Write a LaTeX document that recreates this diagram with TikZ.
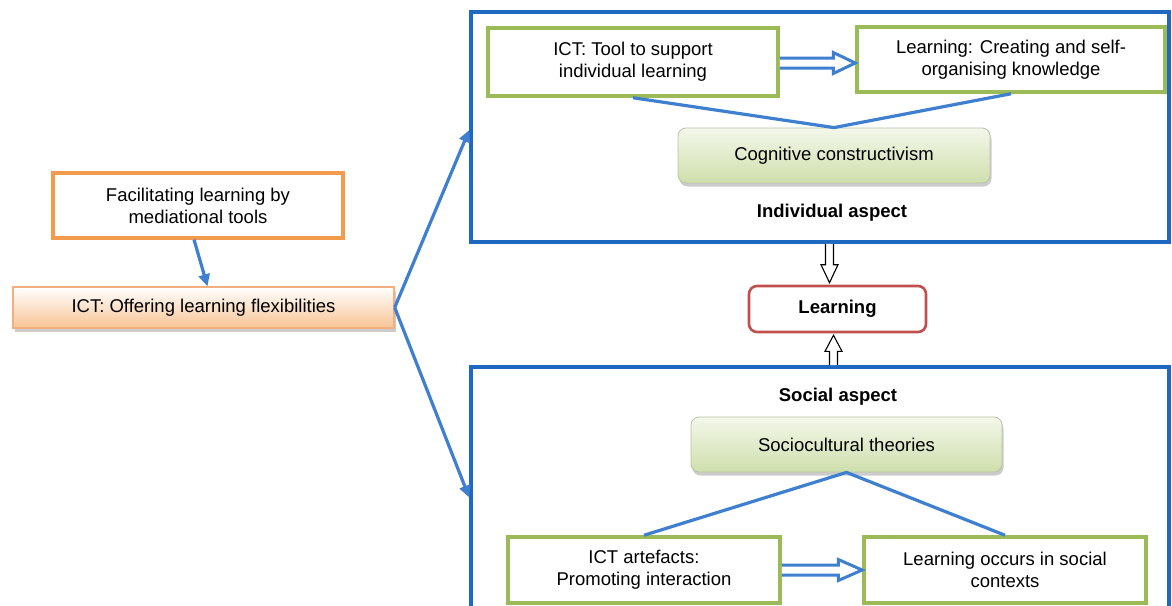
\documentclass[tikz,border=0pt]{standalone}
\usepackage{fontspec}
\setmainfont{Liberation Sans}
\usetikzlibrary{arrows.meta,calc,shadows}
\definecolor{conn}{HTML}{3F7FCF}
\definecolor{frameblue}{HTML}{1F68C0}
\definecolor{orangeline}{HTML}{F29B4C}
\definecolor{peachline}{HTML}{F3B07E}
\definecolor{peachfill}{HTML}{F8C495}
\definecolor{greenline}{HTML}{9BBB59}
\definecolor{greenfill}{HTML}{CFDFAC}
\definecolor{redline}{HTML}{C0504D}
\tikzset{
  txt/.style={font=\fontsize{18.5}{22}\selectfont, align=center, inner sep=0pt},
  headlabel/.style={font=\fontsize{18.5}{22}\selectfont\bfseries, inner sep=0pt},
  orangebox/.style={draw=orangeline, line width=3.2pt, fill=white, txt},
  peachbox/.style={draw=peachline, line width=1.4pt, txt,
    top color=white, bottom color=peachfill,
    drop shadow={shadow xshift=1.5pt, shadow yshift=-3.5pt, opacity=0.4}},
  greenbox/.style={draw=greenline, line width=3.5pt, fill=white, txt},
  themebox/.style={txt, rounded corners=8pt, draw=greenline!45!gray!60, line width=0.8pt,
    top color=greenfill!25, bottom color=greenfill,
    drop shadow={shadow xshift=1.5pt, shadow yshift=-3.5pt, opacity=0.4}},
  framebox/.style={draw=frameblue, line width=3.6pt, fill=white, inner sep=0pt},
  learnbox/.style={draw=redline, line width=2.6pt, rounded corners=8pt, fill=white, headlabel},
  link/.style={draw=conn, line width=3.2pt},
  flow/.style={link, -{Triangle[length=12pt,width=11pt]}},
  hollowblue/.style={draw=conn, line width=3pt, fill=white, line join=miter},
  hollowblack/.style={draw=black, line width=1.1pt, fill=white, line join=miter},
}
\begin{document}
\begin{tikzpicture}[x=1pt,y=-1pt]
\useasboundingbox (0,0) rectangle (1172,605);
\fill[white] (0,0) rectangle (1172,605);
\clip (0,0) rectangle (1172,605);

% left column
\node[orangebox, minimum width=290pt, minimum height=65pt] (facil) at (198,205.5)
  {Facilitating learning by\\mediational tools};
\node[peachbox, minimum width=381pt, minimum height=41pt] (offer) at (203.5,307.5)
  {ICT: Offering learning flexibilities};

% two aspect frames
\node[framebox, minimum width=698pt, minimum height=230pt] (indiv) at (820,127) {};
\node[framebox, minimum width=698pt, minimum height=283pt] (social) at (820,508.5) {};

% individual aspect
\node[greenbox, minimum width=290pt, minimum height=68pt] (tool) at (633,62)
  {ICT: Tool to support\\individual learning};
\node[greenbox, minimum width=308pt, minimum height=65pt] (create) at (1011,59.5)
  {Learning: Creating and self-\\organising knowledge};
\node[themebox, minimum width=312pt, minimum height=55pt] (cog) at (834,155.5)
  {Cognitive constructivism};
\node[headlabel] (indlabel) at (832,213) {Individual aspect};

% centre
\node[learnbox, minimum width=177pt, minimum height=46pt] (learn) at (837.5,309) {Learning};

% social aspect
\node[headlabel] (soclabel) at (838,397) {Social aspect};
\node[themebox, minimum width=311pt, minimum height=55pt] (socio) at (846.5,444.5)
  {Sociocultural theories};
\node[greenbox, minimum width=272pt, minimum height=66pt] (artef) at (644,570)
  {ICT artefacts:\\Promoting interaction};
\node[greenbox, minimum width=282pt, minimum height=66pt] (occurs) at (1005,570)
  {Learning occurs in social\\contexts};

% connectors
\draw[flow] ([xshift=-4pt]facil.south) -- ([xshift=4pt]offer.north);
\draw[flow] (offer.east) -- ([yshift=-3pt]indiv.west);
\draw[flow] (offer.east) -- ([yshift=11pt]social.west);
\draw[link, line join=miter] (tool.south) -- (cog.north) -- (create.south);
\draw[link, line join=miter] (artef.north) -- (socio.south) -- (occurs.north);

% hollow block arrows
\coordinate (ha) at ([yshift=-1pt]tool.east);
\coordinate (hb) at (create.west |- ha);
\draw[hollowblue] ($(ha)+(0,-5)$) -- ($(hb)+(-22,-5)$) -- ($(hb)+(-22,-10.5)$) -- (hb)
  -- ($(hb)+(-22,10.5)$) -- ($(hb)+(-22,5)$) -- ($(ha)+(0,5)$);
\coordinate (ga) at (artef.east);
\coordinate (gb) at (occurs.west |- ga);
\draw[hollowblue] ($(ga)+(0,-5)$) -- ($(gb)+(-24,-5)$) -- ($(gb)+(-24,-10.5)$) -- (gb)
  -- ($(gb)+(-24,10.5)$) -- ($(gb)+(-24,5)$) -- ($(ga)+(0,5)$);

\coordinate (da) at ([xshift=-8pt]learn.north |- indiv.south);
\coordinate (db) at ([xshift=-8pt]learn.north);
\draw[hollowblack] ($(da)+(-4,0)$) -- ($(db)+(-4,-20)$) -- ($(db)+(-8.5,-20)$) -- ($(db)+(0,-2)$)
  -- ($(db)+(8.5,-20)$) -- ($(db)+(4,-20)$) -- ($(da)+(4,0)$);
\coordinate (ua) at ([xshift=-4pt]learn.south |- social.north);
\coordinate (ub) at ([xshift=-4pt]learn.south);
\draw[hollowblack] ($(ua)+(-4,0)$) -- ($(ub)+(-4,18)$) -- ($(ub)+(-8.5,18)$) -- ($(ub)+(0,2)$)
  -- ($(ub)+(8.5,18)$) -- ($(ub)+(4,18)$) -- ($(ua)+(4,0)$);
\end{tikzpicture}
\end{document}
